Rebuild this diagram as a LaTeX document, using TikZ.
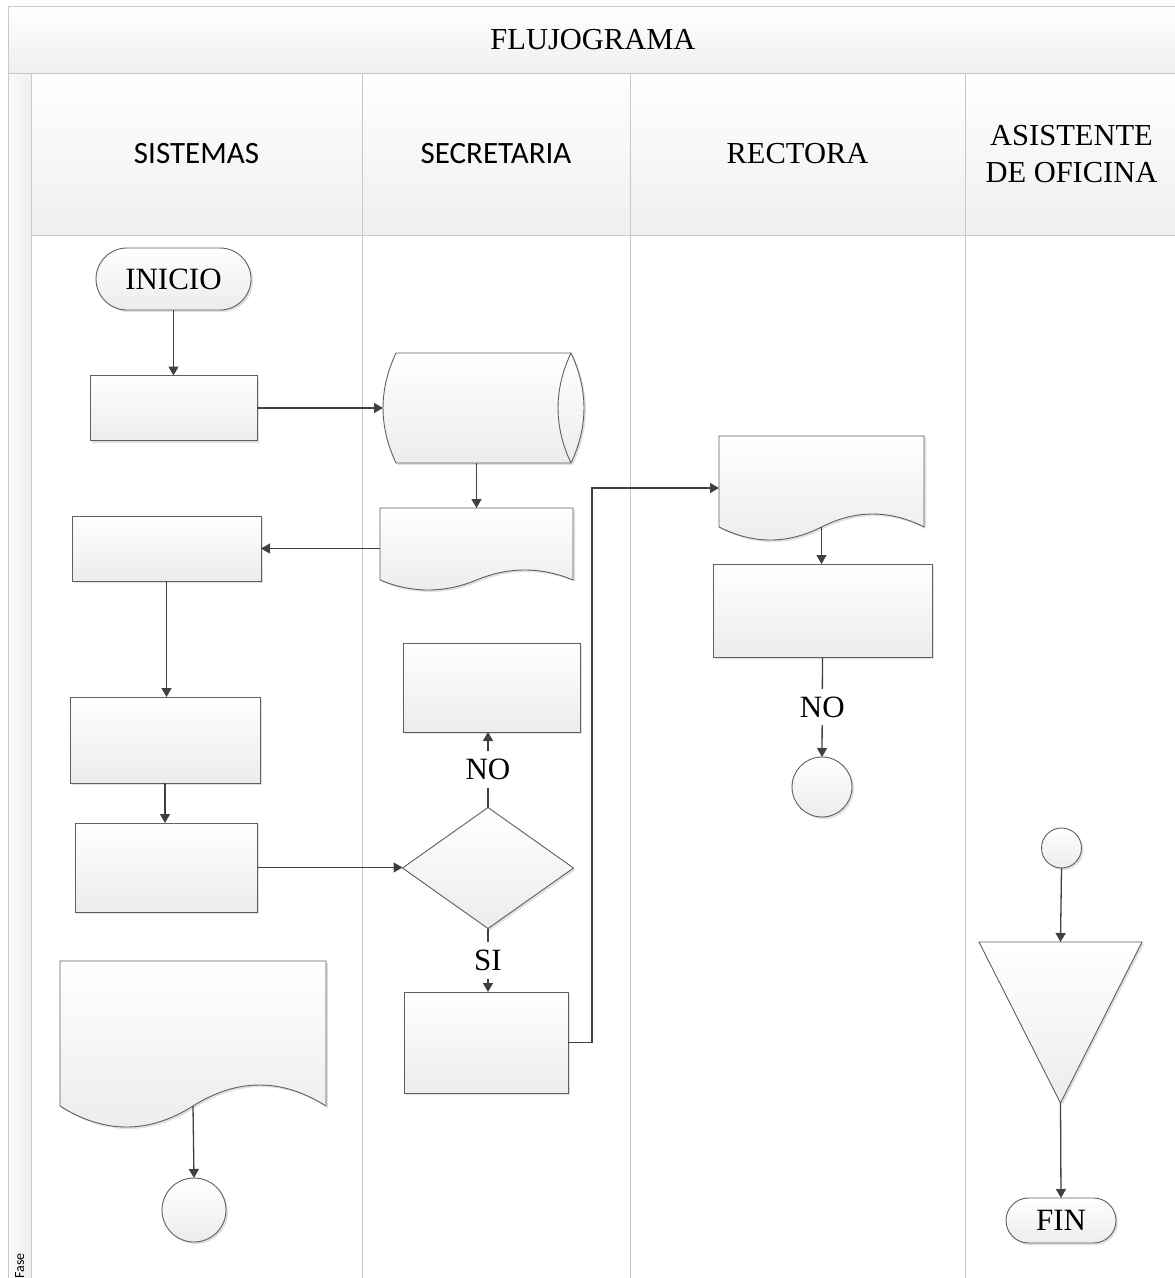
\documentclass[tikz,border=0pt]{standalone}
\usepackage{fontspec}
\setmainfont{Liberation Serif}
\newfontfamily\lanesans{Carlito}
\usetikzlibrary{arrows.meta,shapes.misc,shadows,calc}

\definecolor{lanegray}{HTML}{C8C8C8}
\definecolor{shapeline}{HTML}{5F5F5F}
\definecolor{conn}{HTML}{404040}
\definecolor{fillbot}{HTML}{ECECEC}
\definecolor{hdrbot}{HTML}{EFEFEF}

% document symbol: name, centre x, centre y, width, height, wave amplitude
\newcommand\docsym[6]{%
  \node[anchor box, sz={#4}{#5}] (#1) at (#2,#3) {};
  \path[shp] ({#2-#4/2},{#3-#5/2}) -- ({#2+#4/2},{#3-#5/2}) -- ({#2+#4/2},{#3+#5/2-#6})
    .. controls ({#2+#4/3},{#3+#5/2-#6-4*#6/3}) and ({#2+#4/6},{#3+#5/2-#6-4*#6/3}) .. ({#2},{#3+#5/2-#6})
    .. controls ({#2-#4/6},{#3+#5/2-#6+4*#6/3}) and ({#2-#4/3},{#3+#5/2-#6+4*#6/3}) .. ({#2-#4/2},{#3+#5/2-#6})
    -- cycle;
  \coordinate (#1-w) at ({#2},{#3+#5/2-#6});%
}

\begin{document}
\begin{tikzpicture}[x=1pt,y=-1pt,
  lane/.style={draw=lanegray, line width=1pt},
  sz/.style n args={2}{minimum width=#1pt, minimum height=#2pt},
  shp/.style={draw=shapeline, line width=0.9pt, top color=white, bottom color=fillbot,
    drop shadow={shadow xshift=2pt, shadow yshift=-2pt, opacity=0.12, fill=black}},
  anchor box/.style={rectangle, inner sep=0pt, outer sep=0pt, draw=none},
  proc/.style={shp, rectangle, inner sep=0pt, outer sep=0pt},
  term/.style={shp, rounded rectangle, inner sep=0pt, outer sep=0pt,
    font=\fontsize{31}{31}\selectfont},
  conncircle/.style={shp, circle, inner sep=0pt, outer sep=0pt, minimum size=#1pt},
  arr/.style={draw=conn, line width=1.3pt, -{Triangle[length=9pt,width=10pt]}},
  lbl/.style={fill=white, inner xsep=2pt, inner ysep=8pt, text=black,
    font=\fontsize{31}{31}\selectfont},
  hdr/.style={font=\fontsize{30.5}{37}\selectfont, align=center},
  hdrsans/.style={font=\lanesans\fontsize{31}{36}\selectfont}]

\useasboundingbox (0,0) rectangle (1175,1278);

% swimlane frame
\begin{scope}
  \clip (0,0) rectangle (1175,1278);
  \shade[top color=white, bottom color=hdrbot] (8,6) rectangle (1178,73);
  \shade[top color=white, bottom color=hdrbot] (31,73) rectangle (1178,235);
  \shade[left color=gray!4, right color=gray!12] (8,73) rectangle (31,1290);
  \draw[lane] (8,1290) -- (8,6) -- (1178,6) -- (1178,1290);
  \draw[lane] (8,73) -- (1178,73);
  \draw[lane] (31,73) -- (31,1290);
  \draw[lane] (31,235) -- (1178,235);
  \foreach \xx in {362,630,965} \draw[lane] (\xx,73) -- (\xx,1290);
  \node[rotate=90, anchor=base east, inner sep=0pt,
    font=\lanesans\fontsize{14}{14}\selectfont] (fase) at (24,1253) {Fase};
\end{scope}

% headers
\node[hdr] (title) at (593,40) {FLUJOGRAMA};
\node[hdrsans] (h1) at (196.5,154) {SISTEMAS};
\node[hdrsans] (h2) at (496,154) {SECRETARIA};
\node[hdr] (h3) at (797.5,154) {RECTORA};
\node[hdr] (h4) at (1071.5,154) {ASISTENTE\\DE OFICINA};

% SISTEMAS lane
\node[term, sz={155}{62}] (ini) at (173.5,279) {INICIO};
\node[proc, sz={167}{65}] (r1) at (173.5,408) {};
\node[proc, sz={189}{65}] (r2) at (166.5,548.5) {};
\node[proc, sz={190}{86}] (r3) at (165,740) {};
\node[proc, sz={182}{89}] (r4) at (166,867.5) {};
\docsym{d1}{193}{1044}{266}{166}{21}
\node[conncircle=64] (c2) at (194,1210) {};

% SECRETARIA lane
\node[anchor box, sz={201}{110}] (cyl) at (483.5,408) {};
\path[shp] (396,353) -- (571,353)
  .. controls (588.3,389.7) and (588.3,426.3) .. (571,463) -- (396,463)
  .. controls (378.7,426.3) and (378.7,389.7) .. (396,353) -- cycle;
\draw[draw=shapeline, line width=0.9pt] (571,353)
  .. controls (553.7,389.7) and (553.7,426.3) .. (571,463);
\docsym{d2}{476.5}{549}{193}{82}{10}
\node[proc, sz={177}{89}] (r5) at (491.5,687.5) {};
\node[anchor box, sz={171}{121}] (dia) at (488,868) {};
\path[shp] (dia.north) -- (dia.east) -- (dia.south) -- (dia.west) -- cycle;
\node[proc, sz={164}{101}] (r6) at (486,1042.5) {};

% RECTORA lane
\docsym{d3}{821.5}{488}{205}{104}{13}
\node[proc, sz={219}{93}] (r7) at (822.5,610.5) {};
\node[conncircle=60] (c1) at (822,787) {};

% ASISTENTE DE OFICINA lane
\node[conncircle=40] (c3) at (1061.5,848) {};
\node[anchor box, sz={163}{161}] (tri) at (1060.5,1022.5) {};
\path[shp] (tri.north west) -- (tri.north east) -- (tri.south) -- cycle;
\node[term, sz={110}{45}] (fin) at (1061,1220.5) {FIN};

% connectors
\draw[arr] (ini.south) -- (r1.north);
\draw[arr] (r1.east) -- (cyl.west);
\draw[arr] (d2.north |- cyl.south) -- (d2.north);
\draw[arr] (r2.east -| d2.west) -- (r2.east);
\draw[arr] (r2.south) -- (r2.south |- r3.north);
\draw[arr] (r3.south) -- (r3.south |- r4.north);
\draw[arr] (r4.east) -- (r4.east -| dia.west);
\draw[arr] (dia.north) -- node[lbl] {NO} (dia.north |- r5.south);
\draw[arr] (dia.south) -- node[lbl] {SI} (dia.south |- r6.north);
\draw[arr] (r6.east) -- ++(24,0) |- (d3.west);
\draw[arr] (d3-w) -- (d3-w |- r7.north);
\draw[arr] (r7.south) -- node[lbl] {NO} (c1.north);
\draw[arr] (d1-w) -- (c2.north);
\draw[arr] (c3.south) -- (tri.north);
\draw[arr] (tri.south) -- (fin.north);

\end{tikzpicture}
\end{document}
